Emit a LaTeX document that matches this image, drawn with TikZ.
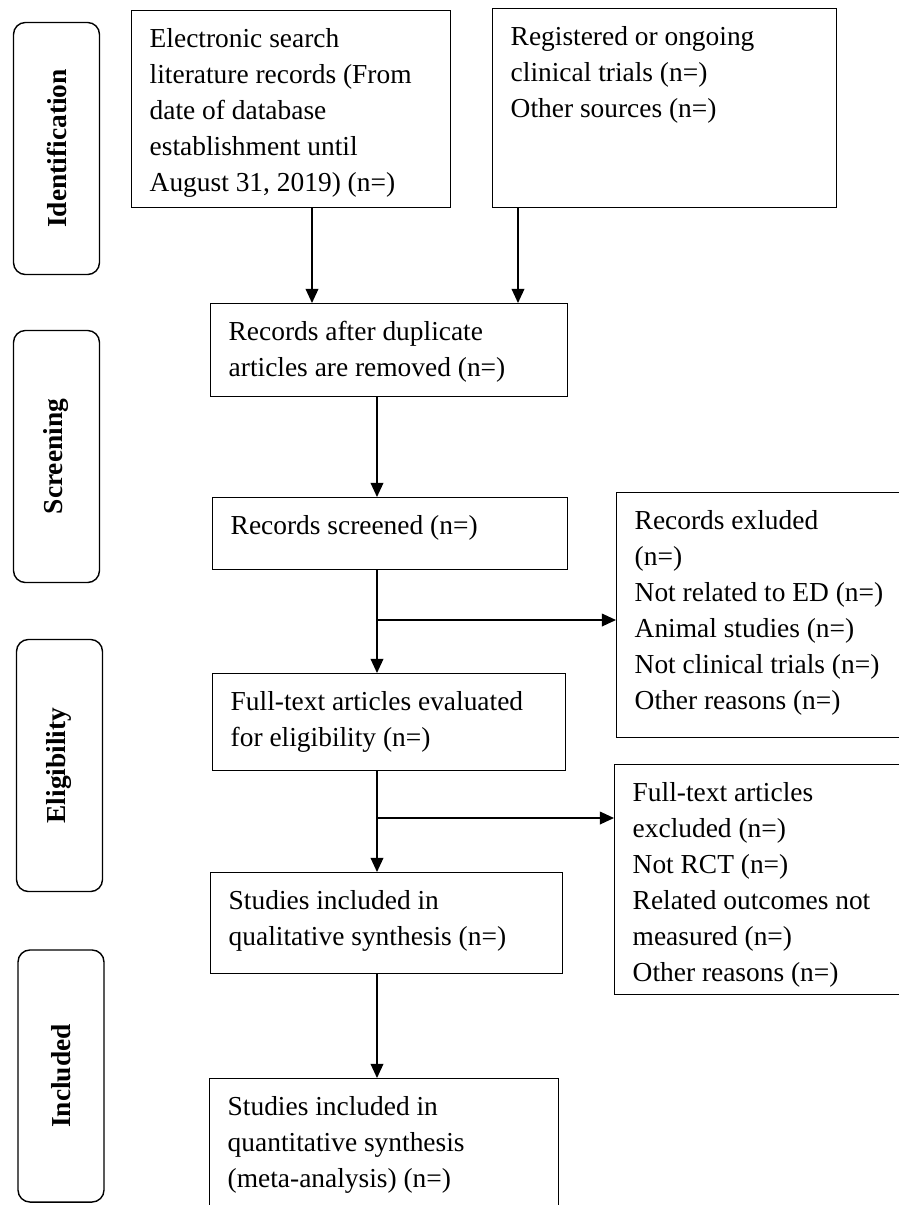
\documentclass[tikz,border=0pt]{standalone}
\usepackage{fontspec}
\setmainfont{Liberation Serif}
\usetikzlibrary{arrows.meta}

\newlength{\pxu}
\setlength{\pxu}{0.025cm}
\newcommand{\boxtext}[3]{\parbox[t][#2\pxu][t]{#1\pxu}{\raggedright\strut #3}}

\begin{document}
\begin{tikzpicture}[x = 0.025cm, y = -0.025cm,
        box/.style = {draw, line width = 1pt, anchor = north west, inner xsep = 0.45cm, inner ysep = 0.3cm},
        stage/.style = {draw, line width = 1pt, rounded corners = 0.3cm, rotate = 90, inner sep = 0pt,
            minimum width = 6.3cm, minimum height = 2.15cm, font = \fontsize{19.5}{25.6}\selectfont\bfseries},
        arr/.style = {line width = 1pt, -{Triangle[length = 10pt, width = 9pt]}},
        font = \fontsize{19.5}{25.6}\selectfont]
                \useasboundingbox (0, 0) rectangle (899, 1205);
                \clip (0, 0) rectangle (899, 1205);

                \foreach \lab/\x/\y in {Identification/56.5/148.5, Screening/56.5/456.5, Eligibility/59.5/765.5, Included/61/1076}
                \node [stage] (\lab) at (\x, \y) {\lab};

                \node [box] (search) at (131, 10) {\boxtext{283}{173}{Electronic search\\literature records (From\\date of database\\establishment until\\August 31, 2019) (n=)}};
                \node [box] (trials) at (492, 8) {\boxtext{308}{175}{Registered or ongoing\\clinical trials (n=)\\Other sources (n=)}};
                \node [box] (dupl) at (210, 303) {\boxtext{321}{69}{Records after duplicate\\articles are removed (n=)}};
                \node [box] (screened) at (212, 497) {\boxtext{319}{48}{Records screened (n=)}};
                \node [box] (fulltext) at (212, 673) {\boxtext{317}{73}{Full-text articles evaluated\\for eligibility (n=)}};
                \node [box] (qual) at (210, 872) {\boxtext{316}{77}{Studies included in\\qualitative synthesis (n=)}};
                \node [box] (quant) at (209, 1078) {\boxtext{313}{176}{Studies included in\\quantitative synthesis\\(meta-analysis) (n=)}};

                \node [box] (excl) at (616, 492) {\boxtext{290}{221}{Records exluded\\(n=)\\Not related to ED (n=)\\Animal studies (n=)\\Not clinical trials (n=)\\Other reasons (n=)}};
                \node [box] (exclft) at (614, 764) {\boxtext{290}{206}{Full-text articles\\excluded (n=)\\Not RCT (n=)\\Related outcomes not\\measured (n=)\\Other reasons (n=)}};

                \coordinate (ax) at (312, 0);
                \coordinate (bx) at (518, 0);
                \coordinate (spine) at (377, 0);
                \coordinate (split1) at (377, 620);
                \coordinate (split2) at (377, 818);

                \draw [arr] (search.south -| ax) -- (dupl.north -| ax);
                \draw [arr] (trials.south -| bx) -- (dupl.north -| bx);
                \draw [arr] (dupl.south -| spine) -- (screened.north -| spine);
                \draw [arr] (screened.south -| spine) -- (fulltext.north -| spine);
                \draw [arr] (split1) -- (split1 -| excl.west);
                \draw [arr] (fulltext.south -| spine) -- (qual.north -| spine);
                \draw [arr] (split2) -- (split2 -| exclft.west);
                \draw [arr] (qual.south -| spine) -- (quant.north -| spine);
\end{tikzpicture}
\end{document}
